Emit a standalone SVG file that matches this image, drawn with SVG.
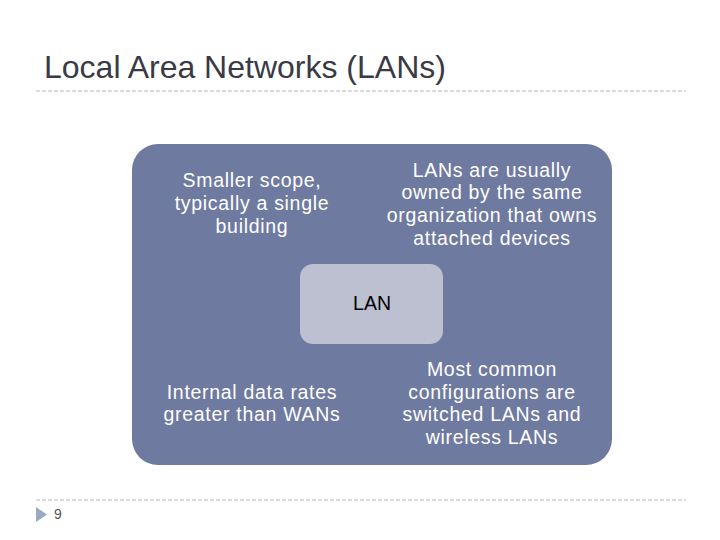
<svg xmlns="http://www.w3.org/2000/svg" width="720" height="540" viewBox="0 0 720 540">
<style>
.t{font-family:"Liberation Sans",Arial,sans-serif;font-size:19.5px;letter-spacing:0.7px;fill:#ffffff;text-anchor:middle}
.rule{stroke:#b8b8b8;stroke-width:1;stroke-dasharray:4 2;fill:none}
</style>
<rect width="720" height="540" fill="#ffffff"/>
<text x="44" y="78" font-family="Liberation Sans,Arial,sans-serif" font-size="32" fill="#3a3a44">Local Area Networks (LANs)</text>
<line class="rule" x1="36" y1="91" x2="686" y2="91"/>
<line class="rule" x1="36" y1="500" x2="686" y2="500"/>
<polygon points="36,507 47,514.5 36,522" fill="#9aaac4"/>
<text x="54" y="519" font-family="Liberation Sans,Arial,sans-serif" font-size="14" fill="#555555">9</text>
<g id="outer">
<rect x="132" y="144" width="480" height="321" rx="26" fill="#6f7aa0"/>
</g>
<g id="topleft">
<text class="t" x="252" y="187">Smaller scope,</text>
<text class="t" x="252" y="210">typically a single</text>
<text class="t" x="252" y="233">building</text>
</g>
<g id="topright">
<text class="t" x="492" y="177">LANs are usually</text>
<text class="t" x="492" y="199">owned by the same</text>
<text class="t" x="492" y="222">organization that owns</text>
<text class="t" x="492" y="245">attached devices</text>
</g>
<g id="bottomleft">
<text class="t" x="252" y="399">Internal data rates</text>
<text class="t" x="252" y="421">greater than WANs</text>
</g>
<g id="bottomright">
<text class="t" x="492" y="376">Most common</text>
<text class="t" x="492" y="399">configurations are</text>
<text class="t" x="492" y="421">switched LANs and</text>
<text class="t" x="492" y="444">wireless LANs</text>
</g>
<g id="lan">
<rect x="300" y="264" width="143" height="80" rx="13" fill="#bcc0d1"/>
<text class="t" x="372" y="310" style="fill:#000000;letter-spacing:0">LAN</text>
</g>
<g id="connectors"></g>
</svg>
